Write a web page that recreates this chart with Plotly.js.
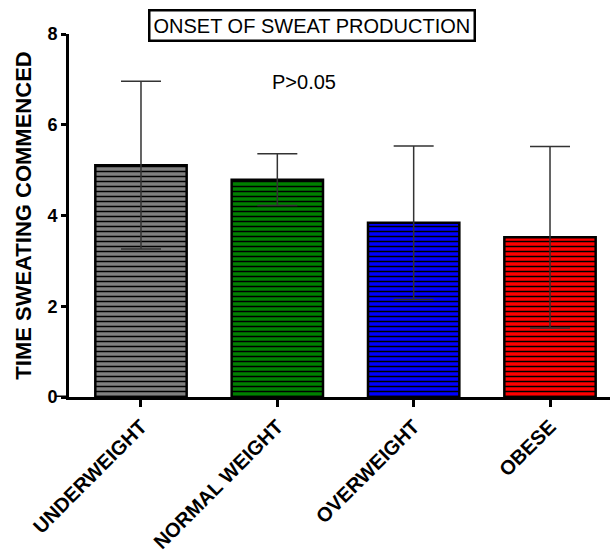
<!DOCTYPE html>
<html>
<head>
<meta charset="utf-8">
<script src="https://cdn.plot.ly/plotly-3.0.1.min.js"></script>
<style>html,body{margin:0;padding:0;background:#fff;}#chart{width:610px;height:557px;}</style>
</head>
<body>
<div id="chart"></div>
<script>
const categories = ["UNDERWEIGHT", "NORMAL WEIGHT", "OVERWEIGHT", "OBESE"];
const meanValues = [5.11, 4.79, 3.84, 3.52];
const errorValues = [1.85, 0.57, 1.69, 2.0];
const barColors = ["#808080", "#008000", "#0000ff", "#ff0000"];
const yTicks = [0, 2, 4, 6, 8];

const FONT = "Arial, 'Liberation Sans', sans-serif";

const traces = categories.map((cat, i) => ({
  type: "bar",
  x: [cat],
  y: [meanValues[i]],
  width: 0.67,
  marker: {
    color: barColors[i],
    line: {color: "#000", width: 2.5},
    pattern: {shape: "-", fgcolor: "#000", bgcolor: barColors[i], fgopacity: 1, size: 5, solidity: 0.3, fillmode: "replace"}
  },
  error_y: {type: "data", array: [errorValues[i]], visible: true, color: "#333", thickness: 1.5, width: 20},
  hoverinfo: "none"
}));

const layout = {
  width: 610, height: 557,
  margin: {l: 69, r: 0, t: 34, b: 160},
  paper_bgcolor: "#fff", plot_bgcolor: "#fff",
  showlegend: false,
  barmode: "overlay",
  font: {family: FONT, color: "#000"},
  xaxis: {
    range: [-0.528, 3.44],
    categoryorder: "array", categoryarray: categories,
    showline: true, linecolor: "#000", linewidth: 3,
    ticks: "outside", ticklen: 7, tickwidth: 3, tickcolor: "#000",
    tickangle: -45,
    tickfont: {family: FONT, size: 20, color: "#000", weight: "bold"},
    showgrid: false, zeroline: false
  },
  yaxis: {
    range: [0, 8],
    tickvals: yTicks,
    showline: true, linecolor: "#000", linewidth: 3,
    ticks: "outside", ticklen: 5, tickwidth: 3, tickcolor: "#000",
    tickfont: {family: FONT, size: 18, color: "#000", weight: "bold"},
    showgrid: false, zeroline: false,
    title: {text: "TIME SWEATING COMMENCED", font: {family: FONT, size: 22, color: "#000", weight: "bold"}, standoff: 10}
  },
  shapes: [
    {type: "line", xref: "paper", yref: "y", x0: -0.025, x1: 0, y0: 0, y1: 0, line: {color: "#000", width: 3}}
  ],
  annotations: [
    {text: "ONSET OF SWEAT PRODUCTION", xref: "paper", yref: "paper", x: 0.449, y: 1.0, xanchor: "center", yanchor: "bottom",
     yshift: -8, showarrow: false, font: {family: FONT, size: 20, color: "#000"},
     bordercolor: "#000", borderwidth: 2.5, borderpad: 3, bgcolor: "#fff"},
    {text: "P>0.05", xref: "paper", yref: "paper", x: 0.434, y: 0.868, xanchor: "center", yanchor: "middle",
     showarrow: false, font: {family: FONT, size: 20, color: "#000"}}
  ]
};

Plotly.newPlot("chart", traces, layout, {staticPlot: true, displayModeBar: false});
</script>
</body>
</html>
